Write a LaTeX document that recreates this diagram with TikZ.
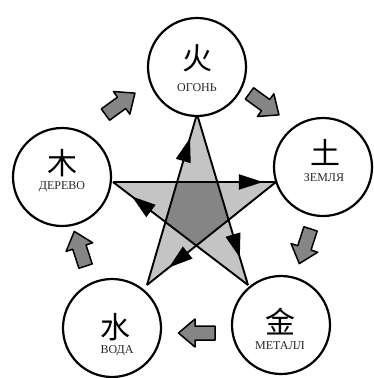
\documentclass[tikz,border=0pt]{standalone}
\usepackage{fontspec}
\setmainfont{Liberation Serif}
\newfontfamily\cjkfont{Noto Sans CJK SC}
\usetikzlibrary{arrows.meta,decorations.markings}
\definecolor{lightfill}{HTML}{C4C4C4}
\definecolor{darkfill}{HTML}{858585}
\begin{document}
\begin{tikzpicture}[x=1pt,y=-1pt,
 elem/.style={circle,draw,fill=white,line width=2.2pt,minimum size=98pt,inner sep=0pt},
 cjk/.style={font=\cjkfont\fontsize{30}{30}\selectfont,inner sep=0pt},
 lbl/.style={font=\fontsize{12}{12}\selectfont,text=black!85,inner sep=0pt},
 starline/.style={line width=1.9pt},
 blk/.pic={\draw[fill=darkfill,line width=1.5pt,line join=round] (-18,-7) -- (2,-7) -- (2,-14) -- (18.5,0) -- (2,14) -- (2,7) -- (-18,7) -- cycle;},
 tipat/.style={postaction={decorate},decoration={markings,mark=at position #1 with {\arrow{Triangle[length=24pt,width=15pt]}}}}
]
\useasboundingbox (0,0) rectangle (373,378);
% star vertices
\coordinate (T) at (197,114);
\coordinate (L) at (113,182);
\coordinate (R) at (276,182);
\coordinate (BL) at (147,285);
\coordinate (BR) at (248,285);
% star fill
\fill[darkfill] (T) -- (BR) -- (L) -- (R) -- (BL) -- cycle;
\fill[lightfill,even odd rule] (T) -- (BR) -- (L) -- (R) -- (BL) -- cycle;
% star lines with arrows
\draw[starline,tipat=0.92] (L) -- (R);
\draw[starline,tipat=0.84] (T) -- (BR);
\draw[starline,tipat=0.86] (BL) -- (T);
\draw[starline,tipat=0.83] (R) -- (BL);
\draw[starline,tipat=0.86] (BR) -- (L);
% circles
\node[elem] (fire) at (197,67) {};
\node[elem] (earth) at (323,167) {};
\node[elem] (wood) at (62,177) {};
\node[elem] (water) at (112,328) {};
\node[elem] (metal) at (281,325) {};
% texts
\node[cjk] (firec) at (197,58) {火};
\node[lbl] (firel) at (197,88) {ОГОНЬ};
\node[cjk] (earthc) at (325,152) {土};
\node[lbl] (earthl) at (324,178) {ЗЕМЛЯ};
\node[cjk] (woodc) at (62,163) {木};
\node[lbl] (woodl) at (62,187) {ДЕРЕВО};
\node[cjk] (waterc) at (115,327) {水};
\node[lbl] (waterl) at (117,351) {ВОДА};
\node[cjk] (metalc) at (280,322) {金};
\node[lbl] (metall) at (280,346) {МЕТАЛЛ};
% block arrows (generating cycle)
\pic[rotate=36] at (120,104) {blk};
\pic[rotate=-36] at (264,104) {blk};
\pic[rotate=-108] at (305,246) {blk};
\pic[rotate=180] at (197,333) {blk};
\pic[rotate=108] at (80,249) {blk};
\end{tikzpicture}
\end{document}
